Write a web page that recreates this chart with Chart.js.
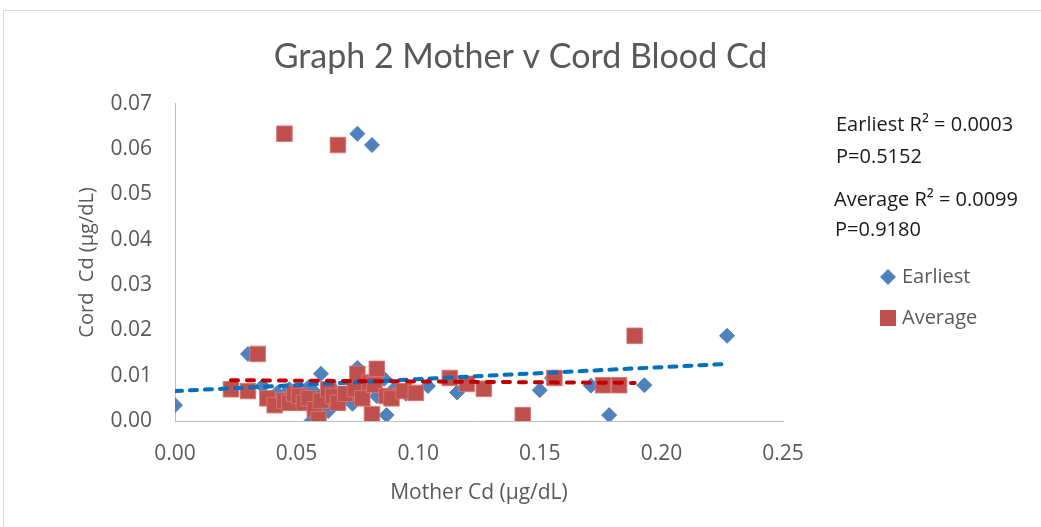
<!DOCTYPE html>
<html>
<head>
<meta charset="utf-8">
<title>Graph 2 Mother v Cord Blood Cd</title>
<script src="https://cdn.jsdelivr.net/npm/chart.js@4/dist/chart.umd.min.js"></script>
<style>
    html, body { margin: 0; padding: 0; background: #fff; overflow: hidden; }
    #frame { position: absolute; left: 3px; top: 10px; width: 1060px; height: 540px; border: 1px solid #d9d9d9; }
    #wrap { position: absolute; left: 0; top: 0; width: 1041px; height: 527px; }
</style>
</head>
<body>
<div id="frame"></div>
<div id="wrap"><canvas id="chart" width="1041" height="527"></canvas></div>
<script>
// mother Cd (x) vs cord Cd (y), ug/dL
var earliestX = [0.000, 0.030, 0.036, 0.042, 0.047, 0.050, 0.053, 0.055, 0.056, 0.058,
    0.060, 0.062, 0.063, 0.066, 0.069, 0.073, 0.075, 0.075, 0.078, 0.081,
    0.083, 0.086, 0.087, 0.090, 0.095, 0.104, 0.116, 0.150, 0.155, 0.171,
    0.1785, 0.193, 0.227];
var earliestY = [0.0035, 0.0148, 0.0077, 0.0062, 0.0070, 0.0050, 0.0045, 0.0075, 0.0000, 0.0060,
    0.0104, 0.0030, 0.0022, 0.0065, 0.0050, 0.0038, 0.0634, 0.0117, 0.0080, 0.0609,
    0.0055, 0.0093, 0.0013, 0.0070, 0.0060, 0.0077, 0.0063, 0.0068, 0.0095, 0.0078,
    0.0013, 0.0079, 0.0188];

var averageX = [0.023, 0.030, 0.034, 0.038, 0.041, 0.045, 0.045, 0.047, 0.049, 0.051,
    0.053, 0.055, 0.0575, 0.059, 0.060, 0.063, 0.065, 0.067, 0.067, 0.070,
    0.074, 0.075, 0.077, 0.080, 0.081, 0.082, 0.083, 0.087, 0.089, 0.094,
    0.099, 0.113, 0.120, 0.127, 0.143, 0.156, 0.176, 0.1826, 0.189];
var averageY = [0.0070, 0.0066, 0.0148, 0.0050, 0.0035, 0.0634, 0.0045, 0.0040, 0.0060, 0.0055,
    0.0040, 0.0050, 0.0026, 0.0004, 0.0045, 0.0070, 0.0055, 0.0609, 0.0040, 0.0060,
    0.0070, 0.0104, 0.0050, 0.0085, 0.0015, 0.0080, 0.0115, 0.0055, 0.0050, 0.0066,
    0.0062, 0.0095, 0.0082, 0.0071, 0.0013, 0.0095, 0.0079, 0.0079, 0.0188];

// linear trendline end points (as drawn by excel)
var trendEarliestX = [0.000, 0.227];
var trendEarliestY = [0.0066, 0.0126];
var trendAverageX = [0.023, 0.189];
var trendAverageY = [0.0090, 0.0084];

var xTicks = [0, 0.05, 0.10, 0.15, 0.20, 0.25];
var yTicks = [0, 0.01, 0.02, 0.03, 0.04, 0.05, 0.06, 0.07];

var statLines = ['Earliest R\u00b2 = 0.0003', 'P=0.5152', 'Average R\u00b2 = 0.0099', 'P=0.9180'];
var legendNames = ['Earliest', 'Average'];

var TITLE_FONT = 'Lato';
var FONT = '"Open Sans"';
var GREY = '#595959';
var BLUE = '#4F81BD';
var RED = '#C0504D';

function toPoints(xs, ys) {
    var pts = [];
    for (var i = 0; i < xs.length; i++) {
        pts.push({ x: xs[i], y: ys[i] });
    }
    return pts;
}

// R2 / P text and the marker legend on the right hand side
var sidePanel = {
    id: 'sidePanel',
    afterDraw: function (chart) {
        var ctx = chart.ctx;
        var left = chart.chartArea.right;
        ctx.save();
        ctx.textAlign = 'left';
        ctx.textBaseline = 'middle';
        ctx.fillStyle = '#1a1a1a';
        ctx.font = '20px ' + FONT;
        ctx.fillText(statLines[0], left + 53, 125);
        ctx.fillText(statLines[1], left + 53, 157);
        ctx.fillText(statLines[2], left + 51, 200);
        ctx.fillText(statLines[3], left + 52, 230);

        // legend markers
        var mx = left + 105;
        ctx.fillStyle = BLUE;
        ctx.beginPath();
        ctx.moveTo(mx, 277 - 8);
        ctx.lineTo(mx + 8, 277);
        ctx.lineTo(mx, 277 + 8);
        ctx.lineTo(mx - 8, 277);
        ctx.closePath();
        ctx.fill();
        ctx.fillStyle = RED;
        ctx.fillRect(mx - 8, 318 - 8, 16, 16);

        ctx.fillStyle = GREY;
        ctx.font = '20px ' + FONT;
        ctx.fillText(legendNames[0], left + 119, 277);
        ctx.fillText(legendNames[1], left + 119, 318);
        ctx.restore();
    }
};

window.addEventListener('load', function () {
    var chart = new Chart(document.getElementById('chart').getContext('2d'), {
        type: 'scatter',
        data: {
            datasets: [{
                label: 'Average trend',
                type: 'line',
                data: toPoints(trendAverageX, trendAverageY),
                borderColor: '#C00000',
                borderWidth: 4,
                borderDash: [7, 9],
                borderCapStyle: 'round',
                pointRadius: 0,
                fill: false,
                order: 0
            }, {
                label: 'Earliest trend',
                type: 'line',
                data: toPoints(trendEarliestX, trendEarliestY),
                borderColor: '#0070C0',
                borderWidth: 4,
                borderDash: [7, 8],
                borderCapStyle: 'round',
                pointRadius: 0,
                fill: false,
                order: 1
            }, {
                label: legendNames[1],
                data: toPoints(averageX, averageY),
                pointStyle: 'rect',
                pointRadius: 11,
                backgroundColor: RED,
                borderColor: 'rgba(214,120,118,0.9)',
                borderWidth: 1,
                order: 2
            }, {
                label: legendNames[0],
                data: toPoints(earliestX, earliestY),
                pointStyle: 'rectRot',
                pointRadius: 7.5,
                backgroundColor: BLUE,
                borderColor: BLUE,
                borderWidth: 1,
                order: 3
            }]
        },
        options: {
            responsive: false,
            animation: false,
            layout: { padding: 0 },
            plugins: {
                legend: { display: false },
                tooltip: { enabled: false },
                title: {
                    display: true,
                    text: 'Graph 2 Mother v Cord Blood Cd',
                    color: GREY,
                    font: { family: TITLE_FONT, size: 34, weight: 'normal' },
                    padding: { top: 37, bottom: 26 }
                }
            },
            scales: {
                x: {
                    type: 'linear',
                    min: 0,
                    max: 0.25,
                    afterBuildTicks: function (s) { s.ticks = xTicks.map(function (v) { return { value: v }; }); },
                    afterFit: function (s) { s.height = 106; },
                    grid: { display: false, drawTicks: false },
                    border: { color: '#BFBFBF', width: 1 },
                    ticks: {
                        color: GREY,
                        padding: 20,
                        font: { family: FONT, size: 21 },
                        callback: function (v) { return v.toFixed(2); }
                    },
                    title: {
                        display: true,
                        text: 'Mother Cd (\u00b5g/dL)',
                        color: GREY,
                        font: { family: FONT, size: 21 },
                        padding: { top: 0, bottom: 21 }
                    }
                },
                y: {
                    type: 'linear',
                    min: 0,
                    max: 0.07,
                    afterBuildTicks: function (s) { s.ticks = yTicks.map(function (v) { return { value: v }; }); },
                    afterFit: function (s) { s.width = 175; },
                    grid: { display: false, drawTicks: false },
                    border: { color: '#BFBFBF', width: 1 },
                    ticks: {
                        color: GREY,
                        padding: 23,
                        font: { family: FONT, size: 21 },
                        callback: function (v) { return v.toFixed(2); }
                    },
                    title: {
                        display: true,
                        text: 'Cord  Cd (\u00b5g/dL)',
                        color: GREY,
                        font: { family: FONT, size: 20 },
                        padding: { top: 75, bottom: 0 }
                    }
                },
                // empty axis that only reserves the space on the right for the text panel
                side: {
                    type: 'linear',
                    position: 'right',
                    min: 0,
                    max: 1,
                    afterFit: function (s) { s.width = 258; },
                    grid: { display: false, drawTicks: false },
                    border: { display: false },
                    ticks: { display: false }
                }
            }
        },
        plugins: [sidePanel]
    });
});
</script>
</body>
</html>
